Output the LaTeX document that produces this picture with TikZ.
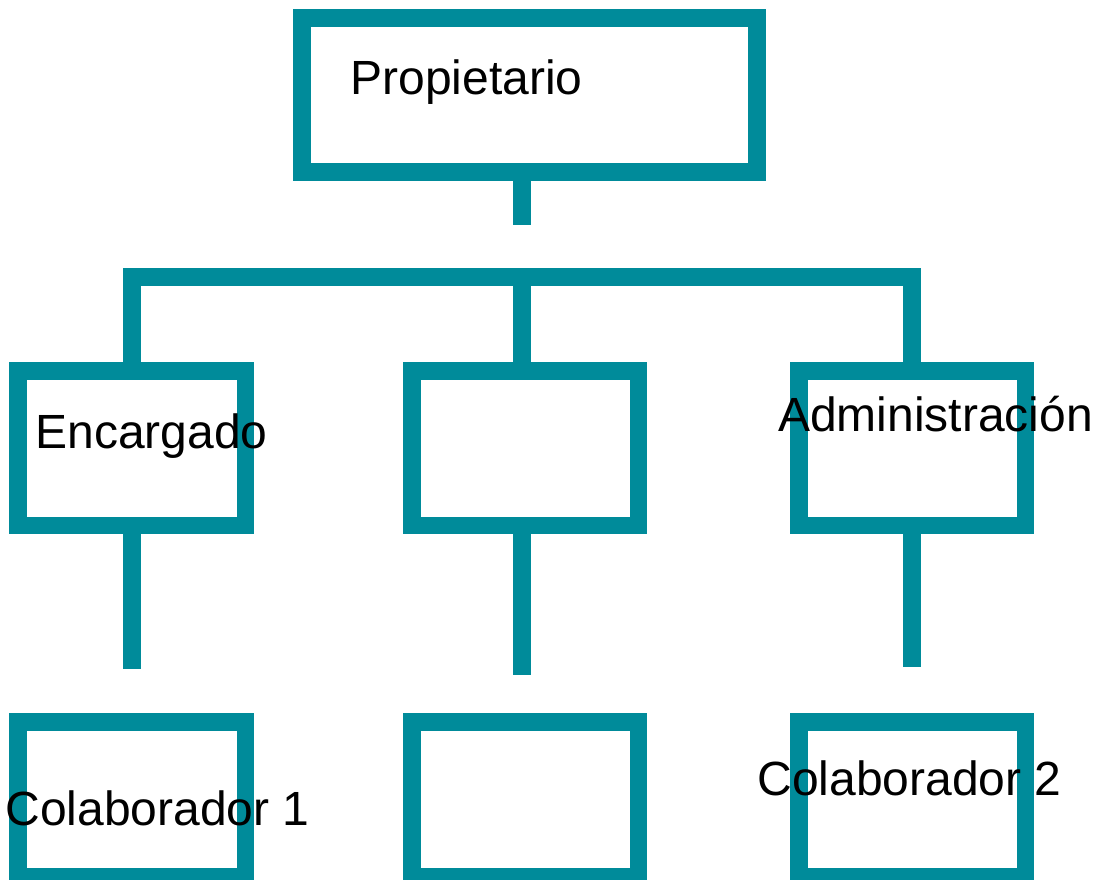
\documentclass[tikz,border=0pt]{standalone}
\usepackage{fontspec}
\setmainfont{Liberation Sans}
\definecolor{tealline}{RGB}{0,139,154}
\begin{document}
\begin{tikzpicture}[x=1pt,y=-1pt,
  orgbox/.style={draw=tealline,line width=17.5pt,rectangle,inner sep=0pt,outer sep=0pt},
  conn/.style={draw=tealline,line width=17.5pt,line cap=butt,line join=miter},
  lbl/.style={inner sep=0pt,outer sep=0pt,anchor=base west,font=\fontsize{48}{58}\selectfont}]
\useasboundingbox (0,0) rectangle (1101,879);
% boxes
\node[orgbox,minimum width=455pt,minimum height=154pt] (prop) at (529.5,95) {};
\node[orgbox,minimum width=227.5pt,minimum height=154.5pt] (enc) at (131.75,448.25) {};
\node[orgbox,minimum width=226.5pt,minimum height=154.5pt] (mid) at (525,448.25) {};
\node[orgbox,minimum width=226.5pt,minimum height=154.5pt] (adm) at (912,448.25) {};
\node[orgbox,minimum width=227.5pt,minimum height=155pt] (col1) at (131.75,799.5) {};
\node[orgbox,minimum width=226.5pt,minimum height=155pt] (mid2) at (525,799.5) {};
\node[orgbox,minimum width=226.5pt,minimum height=155pt] (col2) at (912,799.5) {};
% coordinates
\coordinate (topEnd) at (522,225);
\coordinate (barY) at (522,277);
\coordinate (encEnd) at (131.75,669);
\coordinate (midEnd) at (522,675);
\coordinate (admEnd) at (912,667);
% connectors
\draw[conn] (prop.south -| topEnd) -- (topEnd);
\draw[conn] (enc.north) -- (enc.north |- barY) -- (adm.north |- barY) -- (adm.north);
\draw[conn] (barY) -- (mid.north -| barY);
\draw[conn] (enc.south) -- (encEnd);
\draw[conn] (mid.south -| midEnd) -- (midEnd);
\draw[conn] (adm.south) -- (admEnd);
% labels
\node[lbl] (tprop) at (350.5,94.5) {Propietario};
\node[lbl] (tenc) at (35.5,448.5) {Encargado};
\node[lbl] (tadm) at (778,431.5) {Administración};
\node[lbl] (tcol1) at (5.5,825.5) {Colaborador 1};
\node[lbl] (tcol2) at (757.5,795.5) {Colaborador 2};
\end{tikzpicture}
\end{document}
